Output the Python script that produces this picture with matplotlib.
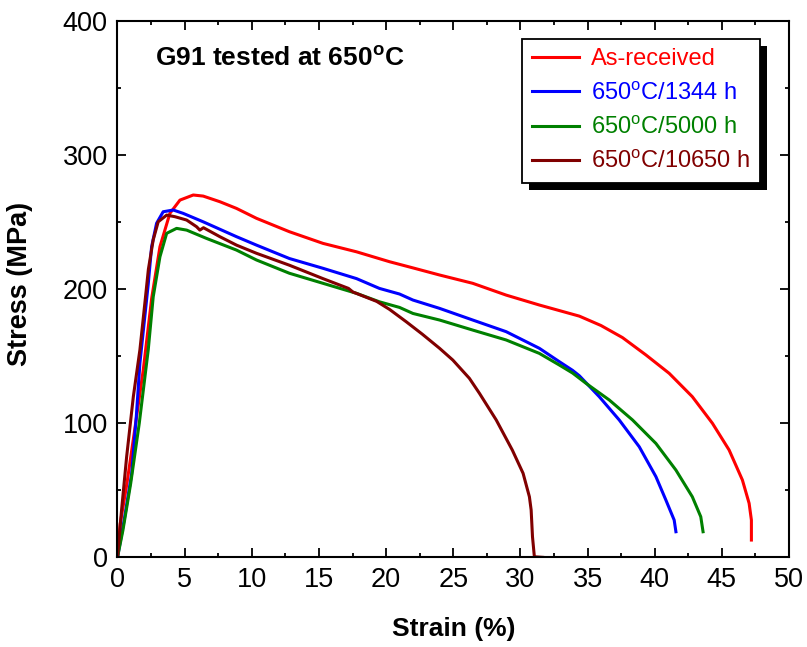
import matplotlib
matplotlib.use("Agg")
import matplotlib.pyplot as plt
from matplotlib.patches import Rectangle
from matplotlib.ticker import MultipleLocator

plt.rcParams['font.family'] = ['Liberation Sans', 'DejaVu Sans']
plt.rcParams['mathtext.fontset'] = 'custom'
plt.rcParams['mathtext.rm'] = 'Liberation Sans'
plt.rcParams['mathtext.bf'] = 'Liberation Sans:bold'

# As-received
red_strain = [0, 0.2, 0.7, 1.35, 1.92, 2.54, 3.16, 3.9, 4.65, 5.64, 6.38, 7.62, 8.86, 10.35,
              12.8, 15.3, 17.8, 20.26, 22.0, 23.98, 26.45, 28.94, 31.41, 34.39, 36.0, 37.6,
              39.35, 41.08, 42.8, 44.3, 45.54, 46.53, 47.03, 47.2, 47.2]
red_stress = [0, 25, 55, 100, 140, 193, 231.8, 256.7, 266.6, 270.4, 269.6, 265.4, 260.4, 253,
              243, 234.3, 228, 220.6, 216, 210.7, 204.5, 195.7, 188.3, 180, 173, 164,
              151, 137.3, 119.9, 100, 80.1, 57.7, 40.3, 27.8, 12.9]

# 650C / 1344 h
blue_strain = [0, 0.5, 1.05, 1.4, 1.67, 2.29, 2.54, 2.91, 3.4, 4.15, 4.89, 6.38, 8.86, 10.35,
               12.8, 15.3, 17.8, 19.5, 21.0, 22.0, 23.98, 26.45, 28.94, 31.41, 32.9, 33.89,
               34.39, 35.87, 37.36, 38.85, 40.09, 40.83, 41.45, 41.58]
blue_stress = [0, 28, 62, 105, 145, 204, 231.8, 249.3, 257.9, 259.2, 256.7, 250.4, 239.3, 233,
               223, 215.7, 208, 200.7, 196.5, 192, 185.8, 177.1, 168.4, 156, 146, 139.5,
               135.5, 119.9, 102.5, 82.5, 60.2, 42.8, 27.8, 19.1]

# 650C / 5000 h
green_strain = [0, 0.4, 0.98, 1.62, 2.29, 2.66, 3.16, 3.66, 4.4, 5.15, 6.63, 8.86, 10.35,
                12.8, 15.3, 17.8, 19.5, 21.0, 22.0, 23.98, 26.45, 28.94, 31.41, 32.9, 33.89,
                34.88, 36.62, 38.35, 40.09, 41.58, 42.8, 43.43, 43.6]
green_stress = [0, 20, 55, 100, 155, 194.5, 224.3, 241.8, 245.5, 244.2, 238, 229.3, 221.9,
                212, 204.5, 197, 190.7, 186.5, 182, 177.1, 169.6, 162.2, 152.2, 143.5, 137.5,
                129.9, 117.4, 102.5, 85, 65.1, 45.2, 30.3, 19.1]

# 650C / 10650 h
brown_strain = [0, 0.3, 0.68, 1.18, 1.67, 2.04, 2.3, 2.66, 3.03, 3.66, 4.28, 5.15, 5.89, 6.13,
                6.4, 7.62, 8.86, 10.35, 12.8, 15.3, 17.2, 17.53, 19.3, 20.26, 21.5, 22.7,
                23.98, 24.97, 26.2, 26.95, 28.2, 29.4, 30.2, 30.67, 30.8, 30.9, 31.04, 31.66]
brown_stress = [0, 35, 75, 120, 155, 190, 215, 237, 250.4, 255.4, 254.2, 251.7, 246.7, 244.2,
                246, 239.3, 233, 226.9, 218, 208, 200.7, 198, 191, 185, 175.8, 166.5,
                156, 147.2, 133.6, 122.4, 102.5, 80, 62.7, 45.2, 35.3, 15.4, 0.4, 0]

labels = ['As-received', '650$^{\\rm o}$C/1344 h', '650$^{\\rm o}$C/5000 h',
          '650$^{\\rm o}$C/10650 h']
colors = ['#ff0000', '#0000ff', '#008000', '#800000']

fig = plt.figure(figsize=(8.07, 6.47), dpi=100)
ax = fig.add_axes([0.1456, 0.1386, 0.8321, 0.8284])

series = [(red_strain, red_stress), (blue_strain, blue_stress),
          (green_strain, green_stress), (brown_strain, brown_stress)]
for (x, y), c, lab in zip(series, colors, labels):
    ax.plot(x, y, color=c, lw=2.2, label=lab, solid_joinstyle='round')

ax.set_xlim(0, 50)
ax.set_ylim(0, 400)
ax.xaxis.set_major_locator(MultipleLocator(5))
ax.xaxis.set_minor_locator(MultipleLocator(2.5))
ax.yaxis.set_major_locator(MultipleLocator(100))
ax.yaxis.set_minor_locator(MultipleLocator(50))
ax.tick_params(which='both', direction='in', top=True, right=True, width=1.3,
               labelsize=19.5)
ax.tick_params(which='major', length=6.5, pad=7)
ax.tick_params(which='minor', length=3)
for s in ax.spines.values():
    s.set_linewidth(1.5)

ax.set_xlabel('Strain (%)', fontsize=19, fontweight='bold')
ax.set_ylabel('Stress (MPa)', fontsize=19.5, fontweight='bold')
ax.xaxis.set_label_coords(0.5, -0.112)
ax.yaxis.set_label_coords(-0.126, 0.51)

ax.text(0.056, 0.918, 'G91 tested at 650$^{\\mathbf{o}}$C', transform=ax.transAxes,
        fontsize=19, fontweight='bold', va='baseline', ha='left')

leg = ax.legend(loc='upper left', bbox_to_anchor=(0.602, 0.968), borderaxespad=0,
                fontsize=17, labelcolor='linecolor', fancybox=False, framealpha=1,
                edgecolor='k', handlelength=2.0, handletextpad=0.5,
                labelspacing=0.48, borderpad=0.42)
leg.get_frame().set_linewidth(1.3)

# black drop shadow behind the legend box
fig.canvas.draw()
bb = leg.get_window_extent().transformed(ax.transAxes.inverted())
dx = 7 / (ax.bbox.width)
dy = 7 / (ax.bbox.height)
ax.add_patch(Rectangle((bb.x0 + dx, bb.y0 - dy), bb.width, bb.height,
                       transform=ax.transAxes, facecolor='k', edgecolor='none',
                       zorder=4.9, clip_on=False))

fig.savefig('out.png', dpi=100)
